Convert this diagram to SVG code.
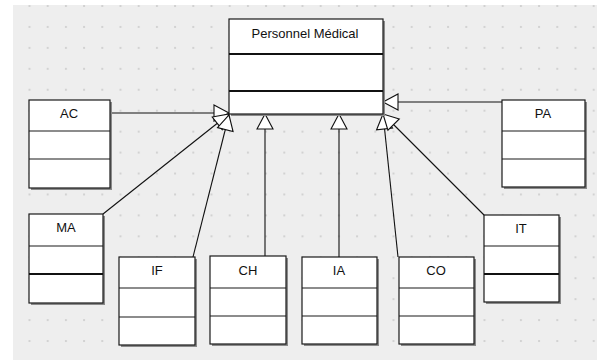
<svg xmlns="http://www.w3.org/2000/svg" width="597" height="360" viewBox="0 0 597 360">
<style>
.bx{fill:#ffffff;stroke:#1a1a1a;stroke-width:1.2}
.sh{fill:#8a8a8a}
.sp{stroke:#1a1a1a;stroke-width:1.1}
.tk{stroke:#111;stroke-width:2}
.lb{font-family:"Liberation Sans",Arial,sans-serif;font-size:13px;fill:#111;text-anchor:middle}
.cn{stroke:#111;stroke-width:1.1;fill:none;marker-end:url(#tri)}
</style>
<defs>
<pattern id="dots" patternUnits="userSpaceOnUse" x="28.5" y="5" width="18.2" height="20.94">
<rect x="0" y="0" width="2" height="2" fill="#d2d2d2"/>
</pattern>
<marker id="tri" viewBox="-1 -1 17 18" refX="15" refY="8" markerWidth="17" markerHeight="18" orient="auto" markerUnits="userSpaceOnUse" overflow="visible">
<path d="M0,0 L15,8 L0,16 Z" fill="#ffffff" stroke="#111" stroke-width="1.1"/>
</marker>
</defs>
<rect x="0" y="0" width="597" height="360" fill="#ffffff"/>
<rect x="13" y="5" width="584" height="355" fill="#eeeeee"/>
<rect x="13" y="5" width="584" height="355" fill="url(#dots)"/>

<g id="connectors">
<line class="cn" x1="110" y1="113" x2="229" y2="113"/>
<line class="cn" x1="103" y1="214" x2="229" y2="114"/>
<line class="cn" x1="193" y1="257" x2="229" y2="115"/>
<line class="cn" x1="265" y1="256" x2="265" y2="114"/>
<line class="cn" x1="339" y1="257" x2="339" y2="114"/>
<line class="cn" x1="398" y1="257" x2="383" y2="114"/>
<line class="cn" x1="484" y1="215" x2="383" y2="114"/>
<line class="cn" x1="502" y1="102" x2="383" y2="102"/>
</g>

<g id="personnel">
<rect class="sh" x="231" y="21" width="154" height="95"/>
<rect class="bx" x="229" y="19" width="154" height="95"/>
<line class="tk" x1="229" y1="54" x2="383" y2="54"/>
<line class="tk" x1="229" y1="91" x2="383" y2="91"/>
<text class="lb" x="305" y="38">Personnel Médical</text>
</g>

<g id="AC">
<rect class="sh" x="31" y="102" width="81" height="88"/>
<rect class="bx" x="29" y="100" width="81" height="88"/>
<line class="sp" x1="29" y1="131" x2="110" y2="131"/>
<line class="sp" x1="29" y1="159" x2="110" y2="159"/>
<text class="lb" x="69" y="118">AC</text>
</g>

<g id="PA">
<rect class="sh" x="504" y="102" width="83" height="87"/>
<rect class="bx" x="502" y="100" width="83" height="87"/>
<line class="sp" x1="502" y1="131" x2="585" y2="131"/>
<line class="sp" x1="502" y1="159" x2="585" y2="159"/>
<text class="lb" x="543" y="118">PA</text>
</g>

<g id="MA">
<rect class="sh" x="31" y="216" width="74" height="89"/>
<rect class="bx" x="29" y="214" width="74" height="89"/>
<line class="sp" x1="29" y1="246" x2="103" y2="246"/>
<line class="tk" x1="29" y1="274" x2="103" y2="274"/>
<text class="lb" x="66" y="232">MA</text>
</g>

<g id="IT">
<rect class="sh" x="486" y="217" width="75" height="87"/>
<rect class="bx" x="484" y="215" width="75" height="87"/>
<line class="sp" x1="484" y1="246" x2="559" y2="246"/>
<line class="tk" x1="484" y1="274" x2="559" y2="274"/>
<text class="lb" x="521" y="233">IT</text>
</g>

<g id="IF">
<rect class="sh" x="121" y="259" width="76" height="88"/>
<rect class="bx" x="119" y="257" width="76" height="88"/>
<line class="sp" x1="119" y1="288" x2="195" y2="288"/>
<line class="sp" x1="119" y1="317" x2="195" y2="317"/>
<text class="lb" x="157" y="275">IF</text>
</g>

<g id="CH">
<rect class="sh" x="212" y="258" width="76" height="88"/>
<rect class="bx" x="210" y="256" width="76" height="88"/>
<line class="sp" x1="210" y1="288" x2="286" y2="288"/>
<line class="sp" x1="210" y1="316" x2="286" y2="316"/>
<text class="lb" x="248" y="275">CH</text>
</g>

<g id="IA">
<rect class="sh" x="304" y="259" width="75" height="87"/>
<rect class="bx" x="302" y="257" width="75" height="87"/>
<line class="sp" x1="302" y1="288" x2="377" y2="288"/>
<line class="sp" x1="302" y1="316" x2="377" y2="316"/>
<text class="lb" x="339" y="275">IA</text>
</g>

<g id="CO">
<rect class="sh" x="401" y="259" width="75" height="87"/>
<rect class="bx" x="399" y="257" width="75" height="87"/>
<line class="sp" x1="399" y1="288" x2="474" y2="288"/>
<line class="sp" x1="399" y1="316" x2="474" y2="316"/>
<text class="lb" x="436" y="275">CO</text>
</g>
</svg>
